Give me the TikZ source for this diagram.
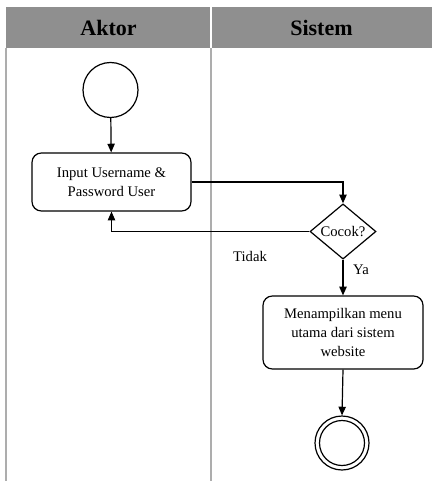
\documentclass[tikz,border=0pt]{standalone}
\usepackage{fontspec}
\setmainfont{Liberation Serif}
\newfontfamily\tnr{Liberation Serif}
\usetikzlibrary{arrows.meta,shapes.geometric}
\begin{document}
\begin{tikzpicture}[x=0.75pt,y=-0.75pt,
  lane/.style={draw=black!32,line width=0.9pt},
  head/.style={font=\tnr\fontsize{16.5}{19}\selectfont\bfseries},
  act/.style={draw,rounded corners=7pt,line width=0.9pt,align=center,
    font=\tnr\fontsize{11}{14.2}\selectfont,inner sep=0pt},
  flow/.style={draw,line width=0.9pt,-{Triangle[length=6.5pt,width=5.5pt]}},
  lbl/.style={font=\tnr\fontsize{11}{13}\selectfont,inner sep=0pt}]
\useasboundingbox (0,0) rectangle (432,481);
% swimlane header
\fill[black!44] (6,7) rectangle (432,48);
\draw[white,line width=1pt] (211,7) -- (211,48);
\node[head] (hA) at (108.5,28) {Aktor};
\node[head] (hS) at (321.5,28) {Sistem};
% lane borders
\draw[lane] (6,48) -- (6,481);
\draw[lane] (211,48) -- (211,481);
% start node
\node[draw,circle,line width=0.9pt,minimum size=41.25pt,inner sep=0pt] (start) at (110.5,90) {};
% input activity
\node[act,minimum width=119.25pt,minimum height=43.5pt] (input) at (111.5,182)
  {Input Username \&\\Password User};
% decision
\node[draw,diamond,line width=0.9pt,minimum width=49.5pt,minimum height=41.25pt,
  inner sep=0pt,font=\tnr\fontsize{11}{13}\selectfont] (dec) at (343,231.5) {Cocok?};
% output activity
\node[act,minimum width=120pt,minimum height=54.75pt] (menu) at (343,332.5)
  {Menampilkan menu\\utama dari sistem\\website};
% end node
\node[draw,circle,line width=0.9pt,minimum size=40.5pt,inner sep=0pt] (stop) at (342,443) {};
\node[draw,circle,line width=0.9pt,minimum size=33.75pt,inner sep=0pt] (stopin) at (342,443) {};
% connectors
\draw[flow] (start) -- (input);
\draw[flow] (input.east) -| (dec.north);
\draw[flow] (dec.west) -| (input.south);
\draw[flow] (dec.south) -- (menu.north);
\draw[flow] (menu.south) -- (stop.north);
% guard labels
\node[lbl] (tidak) at (250,256) {Tidak};
\node[lbl] (ya) at (361,270) {Ya};
\end{tikzpicture}
\end{document}
